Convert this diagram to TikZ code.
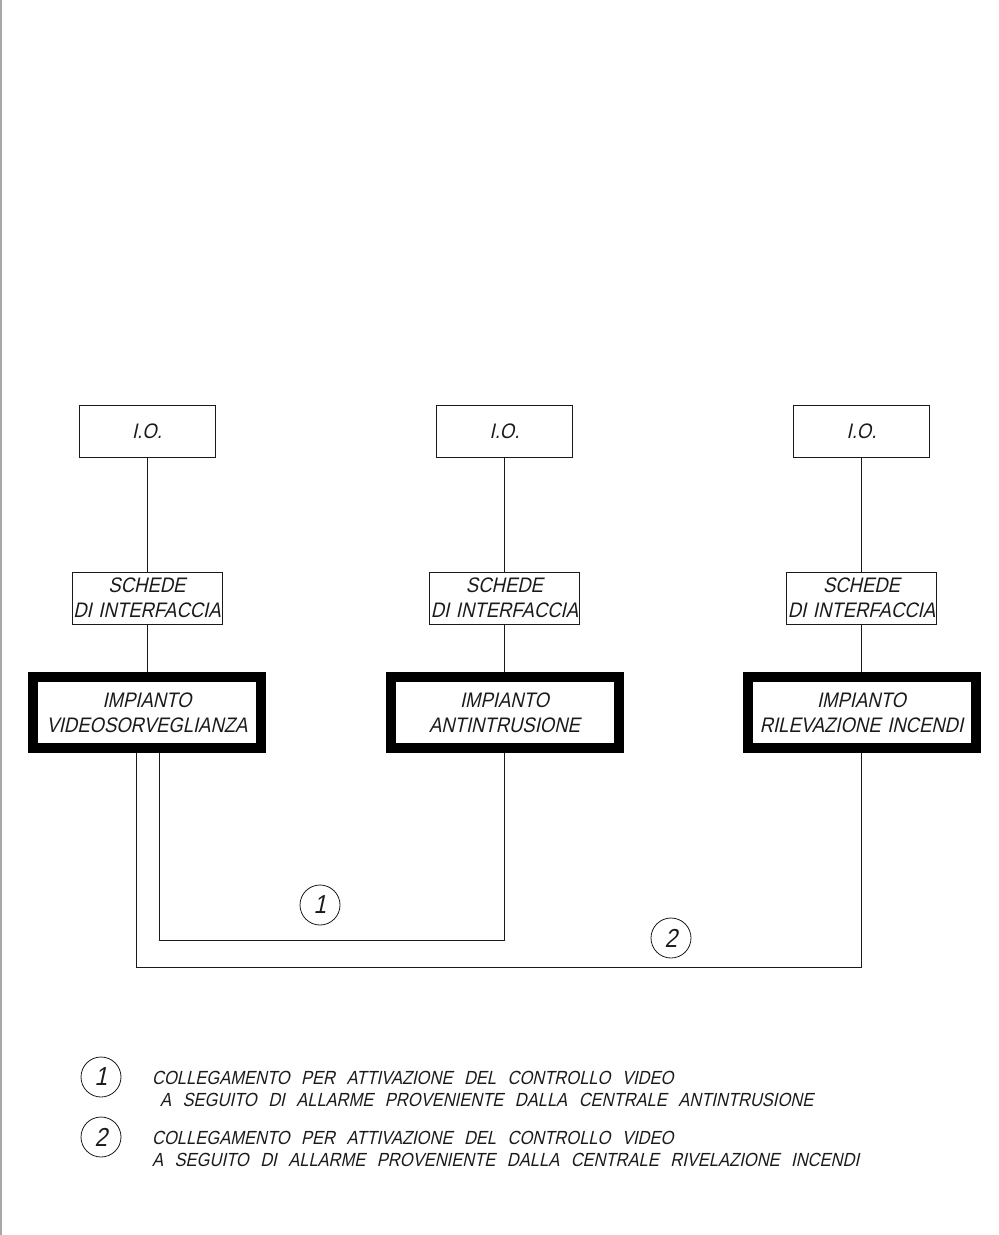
\documentclass[tikz,border=0pt]{standalone}
\usepackage{fontspec}
\newfontfamily\cadfont{Liberation Sans}[FakeSlant=0.22, FakeStretch=0.87, WordSpace=2.5]
\newfontfamily\cadboxfont{Liberation Sans}[FakeSlant=0.22, FakeStretch=0.88, WordSpace=1.3]
\usetikzlibrary{calc}
\definecolor{svink}{HTML}{1A1A1A}
\definecolor{svframe}{HTML}{A8A8A8}
\tikzset{
  sv text/.style={font=\cadboxfont\fontsize{21}{25}\selectfont, text=svink},
  sv box/.style={draw=svink, line width=0.9pt, minimum height=52pt, align=center, inner sep=0pt},
  sv plant/.style={draw=black, line width=10pt, minimum width=228pt, minimum height=71pt,
    align=center, inner sep=0pt},
  sv wire/.style={draw=svink, line width=0.9pt},
  sv ref/.style={draw=svink, line width=0.8pt, circle, minimum size=40pt, inner sep=0pt,
    font=\cadfont\fontsize{26}{26}\selectfont},
  sv note/.style={anchor=west, align=left, inner sep=0pt, font=\cadfont\fontsize{19}{22}\selectfont}
}
\begin{document}
\begin{tikzpicture}[sv text, x=1pt, y=-1pt]
  \useasboundingbox (0,0) rectangle (999,1235);
  \draw[svframe, line width=1.5pt] (0.75,0) -- (0.75,1235);
  \foreach \n/\x in {V/147,A/504.5,R/861.5} {
    \node[sv box, minimum width=136pt] (io\n) at (\x,431) {I.O.};
    \node[sv box, minimum width=150pt] (card\n) at (\x,598) {SCHEDE\\DI INTERFACCIA};
    \draw[sv wire] (io\n) -- (card\n);
  }
  \node[sv plant] (plantV) at (147,712.5) {IMPIANTO\\VIDEOSORVEGLIANZA};
  \node[sv plant] (plantA) at (504.5,712.5) {IMPIANTO\\ANTINTRUSIONE};
  \node[sv plant] (plantR) at (861.5,712.5) {IMPIANTO\\RILEVAZIONE INCENDI};
  \foreach \n in {V,A,R}
    \draw[sv wire] (card\n) -- (plant\n);
  % links from the video plant
  \coordinate (tapA) at ($(plantV.south)+(12,0)$);
  \coordinate (tapR) at ($(plantV.south)+(-11,0)$);
  \coordinate (lvlA) at (0,940);
  \coordinate (lvlR) at (0,967);
  \draw[sv wire] (tapA) |- (lvlA -| plantA.south) -- (plantA.south);
  \draw[sv wire] (tapR) |- (lvlR -| plantR.south) -- (plantR.south);
  \node[sv ref] (refA) at (320,905) {1};
  \node[sv ref] (refR) at (671,938) {2};
  % legend
  \node[sv ref] (keyA) at (101,1077) {1};
  \node[sv note] (noteA) at (152,1088.5) {COLLEGAMENTO PER ATTIVAZIONE DEL CONTROLLO VIDEO\\
    \hspace{8pt}A SEGUITO DI ALLARME PROVENIENTE DALLA CENTRALE ANTINTRUSIONE};
  \node[sv ref] (keyR) at (101,1137) {2};
  \node[sv note] (noteR) at (152,1148.5) {COLLEGAMENTO PER ATTIVAZIONE DEL CONTROLLO VIDEO\\
    A SEGUITO DI ALLARME PROVENIENTE DALLA CENTRALE RIVELAZIONE INCENDI};
\end{tikzpicture}
\end{document}
